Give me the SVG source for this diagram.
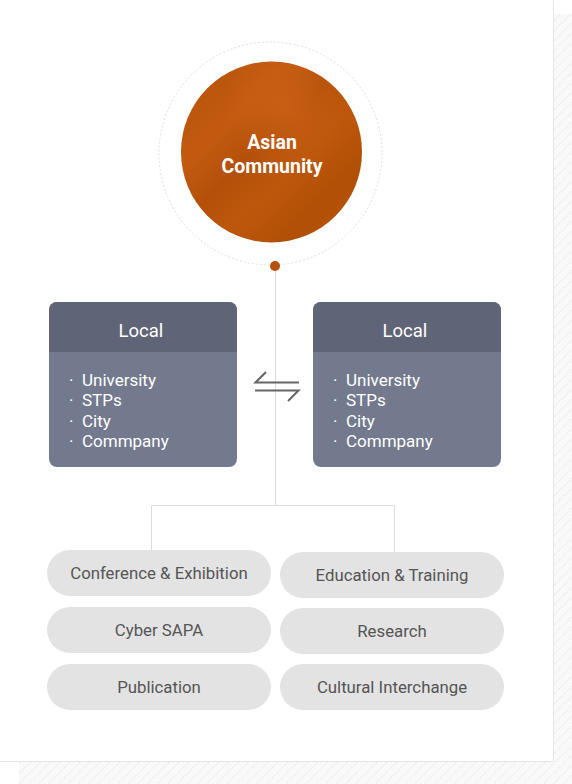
<svg xmlns="http://www.w3.org/2000/svg" width="572" height="784" viewBox="0 0 572 784">
<defs>
<pattern id="hatch" width="7" height="7" patternUnits="userSpaceOnUse" patternTransform="rotate(45)">
<rect width="7" height="7" fill="#f9f9f9"/>
<line x1="0" y1="0" x2="0" y2="7" stroke="#d8d8d8" stroke-width="1" stroke-dasharray="1,1"/>
</pattern>
<linearGradient id="orange" x1="0" y1="0" x2="1" y2="1">
<stop offset="0" stop-color="#b7520a"/>
<stop offset="0.3" stop-color="#c25a10"/>
<stop offset="0.45" stop-color="#b4500a"/>
<stop offset="0.6" stop-color="#bd570c"/>
<stop offset="0.8" stop-color="#b14f06"/>
<stop offset="1" stop-color="#c05a0e"/>
</linearGradient>
<radialGradient id="streak" cx="0.58" cy="0.25" r="0.35">
<stop offset="0" stop-color="#cc6216" stop-opacity="0.8"/>
<stop offset="1" stop-color="#cc6216" stop-opacity="0"/>
</radialGradient>
<style>
.conn{fill:none;stroke:#dcdcdc;stroke-width:1}
.hdr{fill:#5f6576}
.body{fill:#737a8d}
.ttl{font-family:Roboto,"Liberation Sans",sans-serif;font-size:18.5px;fill:#fff;text-anchor:middle}
.item{font-family:Roboto,"Liberation Sans",sans-serif;font-size:17px;fill:#fff}
.pill{fill:#e3e3e3}
.ptxt{font-family:Roboto,"Liberation Sans",sans-serif;font-size:16.8px;fill:#555;text-anchor:middle}
.arr{fill:none;stroke:#666;stroke-width:2}
</style>
</defs>
<rect x="0" y="0" width="572" height="784" fill="#fff"/>
<rect x="554" y="14" width="18" height="770" fill="url(#hatch)"/>
<rect x="19" y="762" width="553" height="22" fill="url(#hatch)"/>
<path d="M0 761.5 H553.5 V0" fill="none" stroke="#e6e6e6" stroke-width="1"/>

<g id="connectors">
<line class="conn" x1="275.5" y1="266" x2="275.5" y2="505"/>
<path class="conn" d="M151.5 550 V505.5 H394.5 V552"/>
</g>

<g id="asian-community">
<circle cx="270.5" cy="153.5" r="111.5" fill="none" stroke="#dedede" stroke-width="1" stroke-dasharray="2,2"/>
<circle cx="271.5" cy="152" r="90.5" fill="url(#orange)"/>
<circle cx="271.5" cy="152" r="90.5" fill="url(#streak)"/>
<circle cx="275" cy="266" r="5" fill="#b5520a"/>
<text font-family="Roboto,'Liberation Sans',sans-serif" font-size="19.5" font-weight="bold" fill="#fff" text-anchor="middle"><tspan x="272" y="149">Asian</tspan><tspan x="272" y="173">Community</tspan></text>
</g>

<g id="local-left">
<rect class="body" x="49" y="302" width="188" height="165" rx="8"/>
<path class="hdr" d="M57 302 H229 A8 8 0 0 1 237 310 V352 H49 V310 A8 8 0 0 1 57 302 Z"/>
<text class="ttl" x="141" y="337">Local</text>
<text class="item"><tspan x="69" y="386">·</tspan><tspan x="82" y="386">University</tspan><tspan x="69" y="406">·</tspan><tspan x="82" y="406">STPs</tspan><tspan x="69" y="427">·</tspan><tspan x="82" y="427">City</tspan><tspan x="69" y="447">·</tspan><tspan x="82" y="447">Commpany</tspan></text>
</g>

<g id="exchange">
<path class="arr" d="M266 372 L255.5 382.5 H299"/>
<path class="arr" d="M255 390.5 H298.5 L288 401"/>
</g>

<g id="local-right">
<rect class="body" x="313" y="302" width="188" height="165" rx="8"/>
<path class="hdr" d="M321 302 H493 A8 8 0 0 1 501 310 V352 H313 V310 A8 8 0 0 1 321 302 Z"/>
<text class="ttl" x="405" y="337">Local</text>
<text class="item"><tspan x="333" y="386">·</tspan><tspan x="346" y="386">University</tspan><tspan x="333" y="406">·</tspan><tspan x="346" y="406">STPs</tspan><tspan x="333" y="427">·</tspan><tspan x="346" y="427">City</tspan><tspan x="333" y="447">·</tspan><tspan x="346" y="447">Commpany</tspan></text>
</g>

<g id="conference"><rect class="pill" x="47" y="550" width="224" height="46" rx="23"/><text class="ptxt" x="159" y="578.5">Conference &amp; Exhibition</text></g>
<g id="cyber-sapa"><rect class="pill" x="47" y="607" width="224" height="46" rx="23"/><text class="ptxt" x="159" y="635.5">Cyber SAPA</text></g>
<g id="publication"><rect class="pill" x="47" y="664" width="224" height="46" rx="23"/><text class="ptxt" x="159" y="692.5">Publication</text></g>
<g id="education"><rect class="pill" x="280" y="552" width="224" height="46" rx="23"/><text class="ptxt" x="392" y="580.5">Education &amp; Training</text></g>
<g id="research"><rect class="pill" x="280" y="608" width="224" height="46" rx="23"/><text class="ptxt" x="392" y="636.5">Research</text></g>
<g id="cultural"><rect class="pill" x="280" y="664" width="224" height="46" rx="23"/><text class="ptxt" x="392" y="692.5">Cultural Interchange</text></g>
</svg>
